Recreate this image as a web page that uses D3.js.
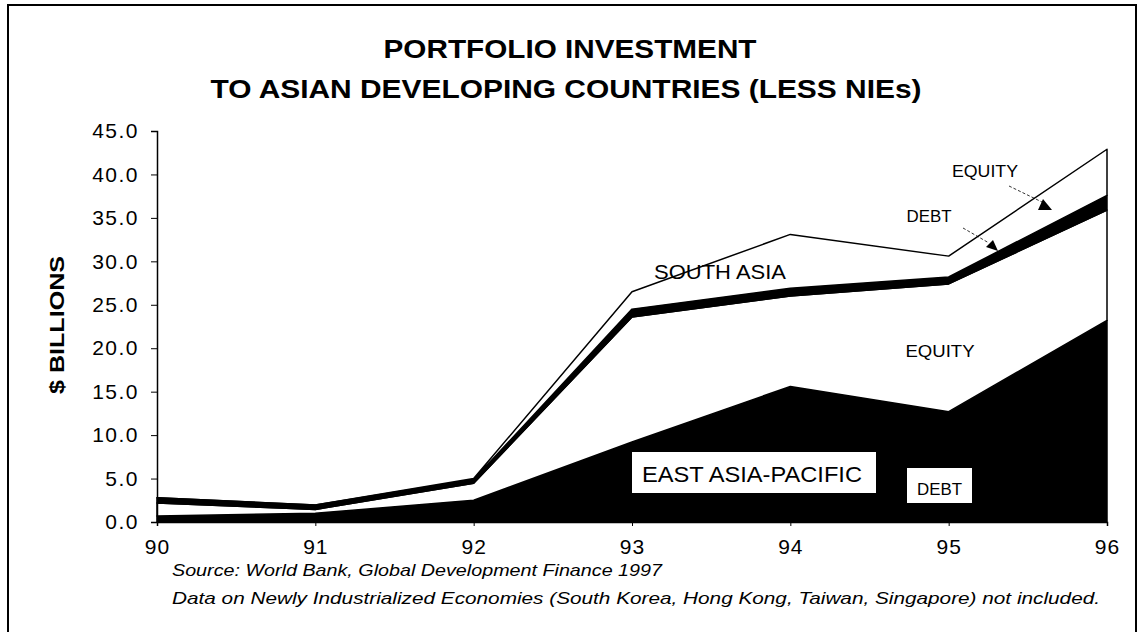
<!DOCTYPE html>
<html><head><meta charset="utf-8">
<script src="https://cdn.jsdelivr.net/npm/d3@7"></script>
<style>
html,body{margin:0;padding:0;background:#fff;}
svg{display:block;font-family:"Liberation Sans",Arial,sans-serif;}
</style></head>
<body><svg id="c" width="1140" height="632"></svg>
<script>
const years = ["90","91","92","93","94","95","96"];
const eastAsiaDebt   = [0.7, 1.0, 2.5, 9.2, 15.6, 12.7, 23.2];
const eastAsiaEquity = [1.5, 0.45, 1.95, 14.4, 10.4, 14.7, 12.7];
const southAsiaDebt  = [0.6, 0.5, 0.45, 0.9, 0.9, 0.8, 1.7];
const southAsiaEquity= [0.0, 0.0, 0.1, 2.0, 6.2, 2.4, 5.3];
const yTicks = [0,5,10,15,20,25,30,35,40,45];

const keys = ["ead","eae","sad","sae"];
const table = years.map((y,i)=>({year:y, ead:eastAsiaDebt[i], eae:eastAsiaEquity[i], sad:southAsiaDebt[i], sae:southAsiaEquity[i]}));
const fills = {ead:"#000", eae:"#fff", sad:"#000", sae:"#fff"};

const svg = d3.select("#c");
const x = d3.scalePoint().domain(years).range([157,1107]);
const y = d3.scaleLinear().domain([0,45]).range([522,131]);

function txt(g, xx, yy, s, size, len, anchor){
  const t = g.append("text").attr("x",xx).attr("y",yy).attr("font-size",size).attr("text-anchor",anchor||"middle").text(s);
  if(len) t.attr("textLength",len).attr("lengthAdjust","spacingAndGlyphs");
  return t;
}

// outer frame
svg.append("path").attr("d","M8,632 L8,5 L1136,5 L1136,632").attr("fill","none").attr("stroke","#000").attr("stroke-width",2);

// title
const title = svg.append("g").attr("font-weight","bold");
txt(title,570,58,"PORTFOLIO INVESTMENT",26,373);
txt(title,566,98,"TO ASIAN DEVELOPING COUNTRIES (LESS NIEs)",26,711);

const series = d3.stack().keys(keys)(table);
const area = d3.area().x(d=>x(d.data.year)).y0(d=>y(d[0])).y1(d=>y(d[1]));
svg.append("g").selectAll("path").data(series).join("path")
  .attr("d",area).attr("fill",d=>fills[d.key]).attr("stroke","#000").attr("stroke-width",1.5).attr("stroke-linejoin","round");

// axes
const yAxis = d3.axisLeft(y).tickValues(yTicks).tickFormat(d3.format(".1f")).tickSize(6).tickPadding(12);
const gy = svg.append("g").attr("transform","translate(157,0)").call(yAxis);
gy.select(".domain").attr("stroke-width",1.5);
gy.selectAll("text").attr("font-size",21).attr("font-family","Liberation Sans, Arial, sans-serif").attr("fill","#000").attr("letter-spacing",1.5);

const xAxis = d3.axisBottom(x).tickSize(4).tickPadding(13);
const gx = svg.append("g").attr("transform","translate(0,522)").call(xAxis);
gx.select(".domain").attr("stroke-width",1.5);
gx.selectAll("text").attr("font-size",21).attr("font-family","Liberation Sans, Arial, sans-serif").attr("fill","#000").attr("letter-spacing",1);

// y label
const yl = svg.append("g").attr("transform","translate(64,325) rotate(-90)").attr("font-weight","bold");
txt(yl,0,0,"$ BILLIONS",21,138);

// in-chart labels
const lab = svg.append("g");
txt(lab,720,279,"SOUTH ASIA",21,132);
txt(lab,940,357,"EQUITY",16,69);

lab.append("rect").attr("x",632).attr("y",452).attr("width",244).attr("height",41).attr("fill","#fff");
txt(lab,752,482,"EAST ASIA-PACIFIC",22,220);
lab.append("rect").attr("x",907).attr("y",468).attr("width",65).attr("height",35).attr("fill","#fff");
txt(lab,939.5,495,"DEBT",17,45);

txt(lab,985,177,"EQUITY",16,66);
txt(lab,929,222,"DEBT",16,45);

// arrows
svg.append("line").attr("x1",1009).attr("y1",186).attr("x2",1044).attr("y2",203).attr("stroke","#000").attr("stroke-width",0.8).attr("stroke-dasharray","3,2");
svg.append("path").attr("d","M1038,210 L1052,210 L1043,199 Z").attr("fill","#000");
svg.append("line").attr("x1",963).attr("y1",228).attr("x2",989).attr("y2",243).attr("stroke","#000").attr("stroke-width",0.8).attr("stroke-dasharray","3,2");
svg.append("path").attr("d","M986,247 L998,251 L993,240 Z").attr("fill","#000");

// footnotes
const fn = svg.append("g").attr("font-style","italic");
txt(fn,172,576,"Source: World Bank, Global Development Finance 1997",16.5,490,"start");
txt(fn,172,604,"Data on Newly Industrialized Economies (South Korea, Hong Kong, Taiwan, Singapore) not included.",16.5,928,"start");
</script></body></html>
